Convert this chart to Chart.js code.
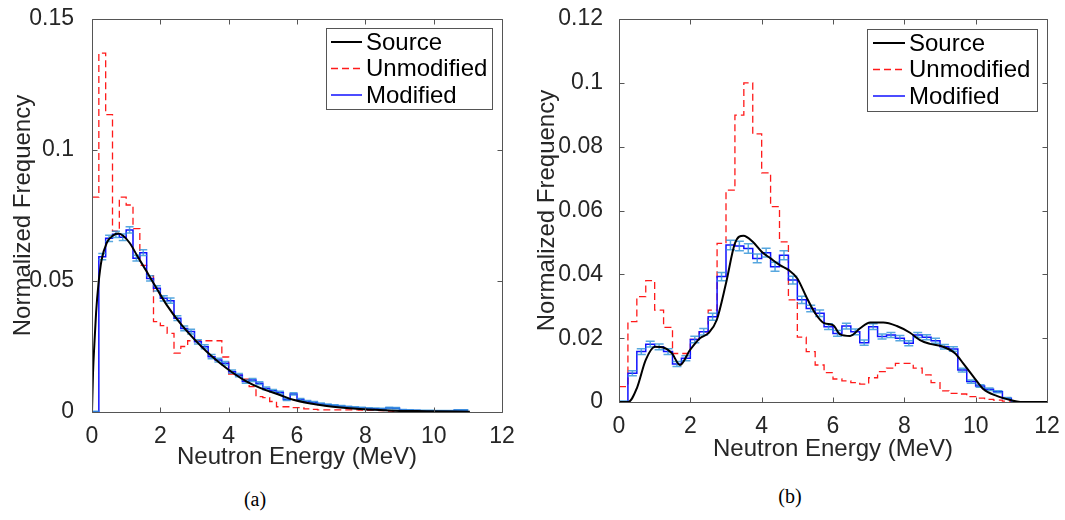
<!DOCTYPE html>
<html>
<head>
<meta charset="utf-8">
<script src="https://cdn.jsdelivr.net/npm/chart.js@4.4.0/dist/chart.umd.min.js"></script>
<style>
  body { margin: 0; background: #fff; width: 1065px; height: 520px; position: relative; overflow: hidden; }
  .panel { position: absolute; top: 0; }
  .cap { position: absolute; width: 60px; text-align: center; font-family: 'Liberation Serif', 'DejaVu Serif', serif; font-size: 20px; color: #000; }
</style>
</head>
<body>
<div class="panel" style="left:0"><canvas id="chartA" width="520" height="480"></canvas></div>
<div class="panel" style="left:530px"><canvas id="chartB" width="535" height="480"></canvas></div>
<div class="cap" style="left:225px;top:488px">(a)</div>
<div class="cap" style="left:760px;top:485px">(b)</div>
<script>
// ---- datos ----
const xTicks = [0, 2, 4, 6, 8, 10, 12];
const xTickLabels = ['0', '2', '4', '6', '8', '10', '12'];
const yTicksA = [0, 0.05, 0.1, 0.15];
const yTickLabelsA = ['0', '0.05', '0.1', '0.15'];
const yTicksB = [0, 0.02, 0.04, 0.06, 0.08, 0.1, 0.12];
const yTickLabelsB = ['0', '0.02', '0.04', '0.06', '0.08', '0.1', '0.12'];
const legendNames = ['Source', 'Unmodified', 'Modified'];

// panel (a): bins of 0.2 MeV
const binWidthA = 0.2;
const modifiedA = [0, 0.0593, 0.0663, 0.0678, 0.0667, 0.0695, 0.0587, 0.0608, 0.0510, 0.0472,
  0.0434, 0.0425, 0.0358, 0.0319, 0.0307, 0.0268, 0.0249, 0.0211, 0.0198, 0.0186,
  0.0154, 0.0141, 0.0116, 0.0122, 0.0110, 0.0090, 0.0081, 0.0074, 0.0048, 0.0069,
  0.0048, 0.0040, 0.0036, 0.0031, 0.0028, 0.0025, 0.0022, 0.0019, 0.0017, 0.0015,
  0.0013, 0.0012, 0.0011, 0.0015, 0.0014, 0.0008, 0.0007, 0.0006, 0.0005, 0.0005,
  0.0004, 0.0004, 0.0004, 0.0007, 0.0007];
const modErrA = [0.0003, 0.0012, 0.0012, 0.0012, 0.0012, 0.0012, 0.0011, 0.0011, 0.0010, 0.0010,
  0.0010, 0.0010, 0.0009, 0.0009, 0.0009, 0.0008, 0.0008, 0.0008, 0.0007, 0.0007,
  0.0006, 0.0006, 0.0006, 0.0006, 0.0005, 0.0005, 0.0005, 0.0005, 0.0004, 0.0004,
  0.0004, 0.0004, 0.0004, 0.0003, 0.0003, 0.0003, 0.0003, 0.0003, 0.0003, 0.0003,
  0.0003, 0.0003, 0.0003, 0.0003, 0.0003, 0.0002, 0.0002, 0.0002, 0.0002, 0.0002,
  0.0002, 0.0002, 0.0002, 0.0002, 0.0002];
const unmodifiedA = [0.082, 0.137, 0.1135, 0.069, 0.082, 0.079, 0.070, 0.056, 0.052, 0.0345,
  0.033, 0.030, 0.0225, 0.025, 0.0272, 0.0272, 0.0272, 0.0272, 0.0272, 0.021,
  0.0145, 0.0140, 0.0125, 0.0097, 0.0059, 0.0055, 0.0040, 0.0020, 0.0020, 0.0017,
  0.0017, 0.0012, 0.0010, 0.0008, 0.0008, 0.0008, 0.0008, 0.0008, 0.0008, 0.0007,
  0.0006, 0.0006, 0.0005, 0.0003, 0.0001, 0.0001, 0.0001, 0.0001, 0.0002, 0.0002,
  0.0002, 0.0002, 0.0002, 0.0002];
const sourceEA = [0, 0.03, 0.07, 0.12, 0.19, 0.28, 0.43, 0.62, 0.77, 0.92, 1.11, 1.31, 1.6, 1.89,
  2.19, 2.58, 2.97, 3.36, 3.75, 4.14, 4.53, 4.92, 5.5, 5.89, 6.87, 7.85, 8.82, 9.8, 11.06];
const sourceVA = [0, 0.015, 0.026, 0.038, 0.049, 0.058, 0.0645, 0.0674, 0.0681, 0.0672, 0.0644, 0.0599, 0.0536, 0.0472,
  0.0408, 0.0339, 0.0281, 0.0230, 0.0186, 0.0148, 0.0116, 0.0092, 0.0065, 0.0047, 0.0023, 0.0011, 0.0005, 0.0003, 0.0001];

// panel (b): bins of 0.25 MeV
const binWidthB = 0.25;
const modifiedB = [0, 0.0090, 0.0158, 0.0181, 0.0173, 0.0158, 0.0119, 0.0137, 0.0196, 0.0220,
  0.0267, 0.0393, 0.0492, 0.0489, 0.0481, 0.0450, 0.0468, 0.0424, 0.0460, 0.0382,
  0.0320, 0.0293, 0.0278, 0.0236, 0.0215, 0.0238, 0.0220, 0.0186, 0.0236, 0.0205,
  0.0210, 0.0200, 0.0184, 0.0210, 0.0203, 0.0192, 0.0173, 0.0166, 0.0100, 0.0064,
  0.0050, 0.0040, 0.0032, 0.0012, 0];
const modErrB = [0.0003, 0.0008, 0.0009, 0.0009, 0.0009, 0.0009, 0.0008, 0.0008, 0.0010, 0.0010,
  0.0011, 0.0013, 0.0015, 0.0015, 0.0015, 0.0014, 0.0014, 0.0014, 0.0014, 0.0012,
  0.0011, 0.0010, 0.0010, 0.0009, 0.0009, 0.0009, 0.0009, 0.0008, 0.0009, 0.0008,
  0.0008, 0.0008, 0.0008, 0.0008, 0.0008, 0.0008, 0.0007, 0.0007, 0.0006, 0.0005,
  0.0004, 0.0004, 0.0003, 0.0002, 0.0001];
const unmodifiedB = [0.0048, 0.0252, 0.0330, 0.0380, 0.0288, 0.0234, 0.0152, 0.0152, 0.0196, 0.0220,
  0.0288, 0.0497, 0.0664, 0.0899, 0.1000, 0.0840, 0.0718, 0.0612, 0.0502, 0.0320,
  0.0203, 0.0158, 0.0116, 0.0092, 0.0072, 0.0066, 0.0061, 0.0056, 0.0076, 0.0095,
  0.0106, 0.0121, 0.0121, 0.0106, 0.0085, 0.0061, 0.0035, 0.0027, 0.0025, 0.0017,
  0.0012, 0.0008, 0.0006, 0.0003, 0];
const sourceEB = [0, 0.26, 0.5, 0.75, 1.01, 1.24, 1.48, 1.71, 1.99, 2.27, 2.5, 2.74, 3.0, 3.25, 3.49,
  3.75, 4.0, 4.25, 4.51, 4.75, 5.0, 5.25, 5.5, 5.75, 6.0, 6.2, 6.48, 6.76, 7.04, 7.41, 7.79,
  8.16, 8.44, 8.72, 9.09, 9.42, 9.65, 9.94, 10.22, 10.59, 10.97, 11.25, 12];
const sourceVB = [0, 0, 0.0043, 0.0132, 0.0173, 0.0171, 0.0153, 0.0116, 0.0163, 0.0200, 0.0215, 0.0257, 0.0372, 0.0497, 0.0521,
  0.0502, 0.0471, 0.0450, 0.0429, 0.0414, 0.0387, 0.0330, 0.0278, 0.0247, 0.0241, 0.0212, 0.0207, 0.0231, 0.0249, 0.0249, 0.0238,
  0.0217, 0.0194, 0.0182, 0.0173, 0.0153, 0.0121, 0.0079, 0.0040, 0.0019, 0.0006, 0, 0];

// ---- estilo ----
const fontFam = "'Liberation Sans', Arial, Helvetica, sans-serif";
const textColor = '#262626';
const axisColor = '#555';

// histograma escalonado a partir de los bins
function histPoints(bins, w) {
  const pts = bins.map((v, i) => ({ x: i * w, y: v }));
  pts.push({ x: bins.length * w, y: bins[bins.length - 1] });
  return pts;
}
function curvePoints(es, vs) {
  return es.map((e, i) => ({ x: e, y: vs[i] }));
}

// caja estilo MATLAB con ticks hacia dentro
const frame = {
  id: 'frame',
  afterDatasetsDraw(chart) {
    const { ctx, chartArea: a, scales: { x, y } } = chart;
    const L = Math.round(a.left) + 0.5, R = Math.round(a.right) + 0.5;
    const T = Math.round(a.top) + 0.5, B = Math.round(a.bottom) + 0.5;
    ctx.save();
    ctx.strokeStyle = axisColor;
    ctx.lineWidth = 1;
    ctx.beginPath();
    ctx.rect(L, T, R - L, B - T);
    x.ticks.forEach(t => {
      const px = Math.round(x.getPixelForValue(t.value)) + 0.5;
      ctx.moveTo(px, B); ctx.lineTo(px, B - 5);
      ctx.moveTo(px, T); ctx.lineTo(px, T + 5);
    });
    y.ticks.forEach(t => {
      const py = Math.round(y.getPixelForValue(t.value)) + 0.5;
      ctx.moveTo(L, py); ctx.lineTo(L + 5, py);
      ctx.moveTo(R, py); ctx.lineTo(R - 5, py);
    });
    ctx.stroke();
    ctx.restore();
  }
};

function makeErrorBars(values, errors, w, cap) {
  return {
    id: 'errorBars',
    afterDatasetDraw(chart, args) {
      if (args.index !== 1) return;
      const { ctx, scales: { x, y }, chartArea: a } = chart;
      ctx.save();
      ctx.beginPath();
      ctx.rect(a.left, a.top, a.right - a.left, a.bottom - a.top);
      ctx.clip();
      ctx.strokeStyle = 'rgba(45,145,215,0.8)';
      ctx.lineWidth = 1.5;
      ctx.beginPath();
      values.forEach((v, i) => {
        const cx = x.getPixelForValue((i + 0.5) * w);
        const y0 = y.getPixelForValue(v - errors[i]);
        const y1 = y.getPixelForValue(v + errors[i]);
        ctx.moveTo(cx, y0); ctx.lineTo(cx, y1);
        ctx.moveTo(cx - cap, y0); ctx.lineTo(cx + cap, y0);
        ctx.moveTo(cx - cap, y1); ctx.lineTo(cx + cap, y1);
      });
      ctx.stroke();
      ctx.restore();
    }
  };
}

function makeLegend(box) {
  return {
    id: 'legendBox',
    afterDraw(chart) {
      const ctx = chart.ctx;
      ctx.save();
      ctx.fillStyle = '#fff';
      ctx.fillRect(box.x, box.y, box.w, box.h);
      ctx.strokeStyle = axisColor;
      ctx.lineWidth = 1;
      ctx.strokeRect(box.x + 0.5, box.y + 0.5, box.w, box.h);
      ctx.font = '24px ' + fontFam;
      ctx.textBaseline = 'middle';
      legendNames.forEach((name, i) => {
        const ds = chart.data.datasets.find(d => d.label === name);
        const yy = box.y + 14 + i * 26.5;
        ctx.strokeStyle = ds.borderColor;
        ctx.lineWidth = ds.borderWidth;
        ctx.setLineDash(ds.borderDash || []);
        ctx.beginPath();
        ctx.moveTo(box.x + box.l0, yy);
        ctx.lineTo(box.x + box.l1, yy);
        ctx.stroke();
        ctx.setLineDash([]);
        ctx.fillStyle = '#000';
        ctx.fillText(name, box.x + box.tx, yy + 1);
      });
      ctx.restore();
    }
  };
}

function buildChart(id, p) {
  return new Chart(document.getElementById(id), {
    type: 'line',
    data: {
      datasets: [
        { label: 'Source', data: curvePoints(p.srcE, p.srcV), borderColor: '#000', borderWidth: 2,
          pointRadius: 0, cubicInterpolationMode: 'monotone' },
        { label: 'Modified', data: histPoints(p.mod, p.w), borderColor: '#1010ff', borderWidth: 1.5,
          pointRadius: 0, stepped: true },
        { label: 'Unmodified', data: histPoints(p.unmod, p.w), borderColor: '#ff1a1a', borderWidth: 1.3,
          borderDash: [7, 4], pointRadius: 0, stepped: true }
      ]
    },
    options: {
      responsive: false,
      animation: false,
      layout: { padding: { top: 19, right: 18, left: 0, bottom: 0 } },
      plugins: { legend: { display: false }, tooltip: { enabled: false } },
      scales: {
        x: {
          type: 'linear', min: 0, max: 12,
          afterBuildTicks: s => { s.ticks = xTicks.map(v => ({ value: v })); },
          afterFit: s => { s.height = p.xAxisH; s.paddingLeft = 0; s.paddingRight = 0; },
          grid: { display: false }, border: { display: false },
          ticks: { padding: 3, color: textColor, maxRotation: 0, autoSkip: false,
            font: { size: 23, family: fontFam }, callback: (v, i) => xTickLabels[i] },
          title: { display: true, text: 'Neutron Energy (MeV)', color: textColor,
            font: { size: 24, family: fontFam }, padding: { top: 0, bottom: p.xTitlePad } }
        },
        y: {
          type: 'linear', min: 0, max: p.yMax,
          afterBuildTicks: s => { s.ticks = p.yTicks.map(v => ({ value: v })); },
          afterFit: s => { s.width = p.yAxisW; s.paddingTop = 0; s.paddingBottom = 0; },
          grid: { display: false }, border: { display: false },
          ticks: { padding: p.yTickPad, color: textColor, autoSkip: false,
            font: { size: 23, family: fontFam }, callback: (v, i) => p.yLabels[i] },
          title: { display: true, text: 'Normalized Frequency', color: textColor,
            font: { size: 24, family: fontFam }, padding: { top: p.yTitlePad, bottom: 0 } }
        }
      }
    },
    plugins: [frame, makeErrorBars(p.mod, p.err, p.w, p.cap), makeLegend(p.legend)]
  });
}

buildChart('chartA', {
  srcE: sourceEA, srcV: sourceVA, mod: modifiedA, err: modErrA, unmod: unmodifiedA, w: binWidthA,
  yMax: 0.15, yTicks: yTicksA, yLabels: yTickLabelsA,
  xAxisH: 68, yAxisW: 92, xTitlePad: 8, yTitlePad: 9, yTickPad: 10, cap: 4,
  legend: { x: 326, y: 28, w: 166, h: 81, l0: 5, l1: 36, tx: 40 }
});
buildChart('chartB', {
  srcE: sourceEB, srcV: sourceVB, mod: modifiedB, err: modErrB, unmod: unmodifiedB, w: binWidthB,
  yMax: 0.12, yTicks: yTicksB, yLabels: yTickLabelsB,
  xAxisH: 78, yAxisW: 89, xTitlePad: 16, yTitlePad: 3, yTickPad: 8, cap: 4.5,
  legend: { x: 337, y: 29, w: 170, h: 82, l0: 6, l1: 38, tx: 42 }
});
</script>
</body>
</html>
